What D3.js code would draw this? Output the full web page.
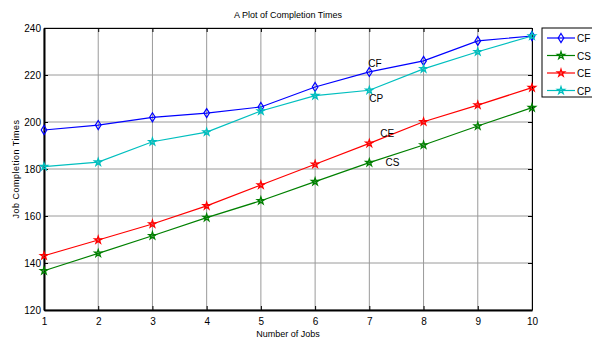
<!DOCTYPE html>
<html>
<head>
<meta charset="utf-8">
<script src="https://cdn.jsdelivr.net/npm/d3@7"></script>
<style>
  body { margin: 0; background: #fff; }
  svg text { font-family: "Liberation Sans", Arial, sans-serif; fill: #000; }
</style>
</head>
<body>
<svg id="chart" width="592" height="341"></svg>
<script>
const jobs = [1, 2, 3, 4, 5, 6, 7, 8, 9, 10];
const cfTimes = [196.6, 198.7, 202.0, 203.8, 206.4, 214.9, 221.3, 226.0, 234.5, 236.6];
const csTimes = [136.7, 144.1, 151.6, 159.3, 166.5, 174.6, 182.7, 190.2, 198.3, 206.1];
const ceTimes = [143.1, 149.8, 156.6, 164.3, 173.2, 182.0, 190.9, 200.1, 207.2, 214.6];
const cpTimes = [181.0, 182.9, 191.6, 195.7, 204.7, 211.2, 213.5, 222.6, 229.9, 236.6];
const yTicks = [120, 140, 160, 180, 200, 220, 240];
const seriesNames = ["CF", "CS", "CE", "CP"];
const seriesColors = ["#0000ff", "#008000", "#ff0000", "#00bfbf"];
const seriesMarkers = ["diamond", "star", "star", "star"];
const notes = [
  { name: "CF", job: 7, value: 221.3, dx: -1, dy: -5 },
  { name: "CP", job: 7, value: 213.5, dx: 0, dy: 12 },
  { name: "CE", job: 7.2, value: 193.5, dx: 0, dy: 0 },
  { name: "CS", job: 7.3, value: 181.3, dx: 0, dy: 0 }
];

const series = seriesNames.map((name, i) => ({
  name,
  color: seriesColors[i],
  marker: seriesMarkers[i],
  values: [cfTimes, csTimes, ceTimes, cpTimes][i]
}));

const svg = d3.select("#chart");
const mLeft = 44, mRight = 532, mTop = 28, mBottom = 310;

const x = d3.scaleLinear().domain([1, 10]).range([mLeft, mRight]);
const y = d3.scaleLinear().domain([120, 240]).range([mBottom, mTop]);

// grid
svg.append("g")
  .selectAll("line")
  .data(jobs)
  .enter().append("line")
  .attr("x1", d => x(d)).attr("x2", d => x(d))
  .attr("y1", mTop).attr("y2", mBottom)
  .attr("stroke", "#9a9a9a").attr("stroke-width", 1);
svg.append("g")
  .selectAll("line")
  .data(yTicks)
  .enter().append("line")
  .attr("x1", mLeft).attr("x2", mRight)
  .attr("y1", d => y(d)).attr("y2", d => y(d))
  .attr("stroke", "#9a9a9a").attr("stroke-width", 1);

// axes
const xAxis = svg.append("g")
  .attr("transform", "translate(0," + mBottom + ")")
  .call(d3.axisBottom(x).tickValues(jobs).tickFormat(d3.format("d")).tickSizeInner(-4).tickSizeOuter(0).tickPadding(8));
const yAxis = svg.append("g")
  .attr("transform", "translate(" + mLeft + ",0)")
  .call(d3.axisLeft(y).tickValues(yTicks).tickSizeInner(-4).tickSizeOuter(0).tickPadding(3));
svg.append("g")
  .attr("transform", "translate(0," + mTop + ")")
  .call(d3.axisTop(x).tickValues(jobs).tickFormat("").tickSizeInner(-4).tickSizeOuter(0));
svg.append("g")
  .attr("transform", "translate(" + mRight + ",0)")
  .call(d3.axisRight(y).tickValues(yTicks).tickFormat("").tickSizeInner(-4).tickSizeOuter(0));

svg.selectAll(".domain").attr("stroke", "#000").attr("stroke-width", 1);
xAxis.select(".domain").attr("stroke-width", 2);
yAxis.select(".domain").attr("stroke-width", 2);
svg.selectAll(".tick line").attr("stroke", "#000");
svg.selectAll(".tick text").attr("font-size", 10).attr("font-family", "Liberation Sans, Arial, sans-serif");

// markers
const starPath = d3.symbol().type(d3.symbolStar).size(16);
function drawMarker(g, type, color) {
  if (type === "diamond") {
    g.append("path")
      .attr("d", "M0,-4.5L2.8,0L0,4.5L-2.8,0Z")
      .attr("fill", "none").attr("stroke", color).attr("stroke-width", 1.2);
  } else {
    g.append("path")
      .attr("d", starPath())
      .attr("fill", "none").attr("stroke", color).attr("stroke-width", 1.3);
  }
}

const line = d3.line().x((d, i) => x(jobs[i])).y(d => y(d));

series.forEach(s => {
  svg.append("path")
    .datum(s.values)
    .attr("d", line)
    .attr("fill", "none")
    .attr("stroke", s.color)
    .attr("stroke-width", 1.2);
  s.values.forEach((v, i) => {
    const g = svg.append("g").attr("transform", "translate(" + x(jobs[i]) + "," + y(v) + ")");
    drawMarker(g, s.marker, s.color);
  });
});

// annotations
svg.selectAll("text.note")
  .data(notes)
  .enter().append("text")
  .attr("class", "note")
  .attr("x", d => x(d.job) + d.dx)
  .attr("y", d => y(d.value) + d.dy)
  .attr("font-size", 10)
  .text(d => d.name);

// titles
svg.append("text")
  .attr("x", (mLeft + mRight) / 2).attr("y", 18)
  .attr("text-anchor", "middle").attr("font-size", 9)
  .text("A Plot of Completion Times");
svg.append("text")
  .attr("x", (mLeft + mRight) / 2).attr("y", 337)
  .attr("text-anchor", "middle").attr("font-size", 9)
  .text("Number of Jobs");
svg.append("text")
  .attr("transform", "translate(19," + (mTop + mBottom) / 2 + ") rotate(-90)")
  .attr("text-anchor", "middle").attr("font-size", 9)
  .attr("letter-spacing", 0.5)
  .text("Job Completion Times");

// legend
const legend = svg.append("g").attr("transform", "translate(542,28)");
legend.append("rect")
  .attr("width", 54).attr("height", 69)
  .attr("fill", "#fff").attr("stroke", "#000").attr("stroke-width", 1);
series.forEach((s, i) => {
  const row = legend.append("g").attr("transform", "translate(0," + (10 + i * 17.5) + ")");
  row.append("line")
    .attr("x1", 5).attr("x2", 33)
    .attr("stroke", s.color).attr("stroke-width", 1.2);
  const m = row.append("g").attr("transform", "translate(19,0)");
  drawMarker(m, s.marker, s.color);
  row.append("text")
    .attr("x", 35).attr("y", 4)
    .attr("font-size", 10)
    .text(s.name);
});
</script>
</body>
</html>
